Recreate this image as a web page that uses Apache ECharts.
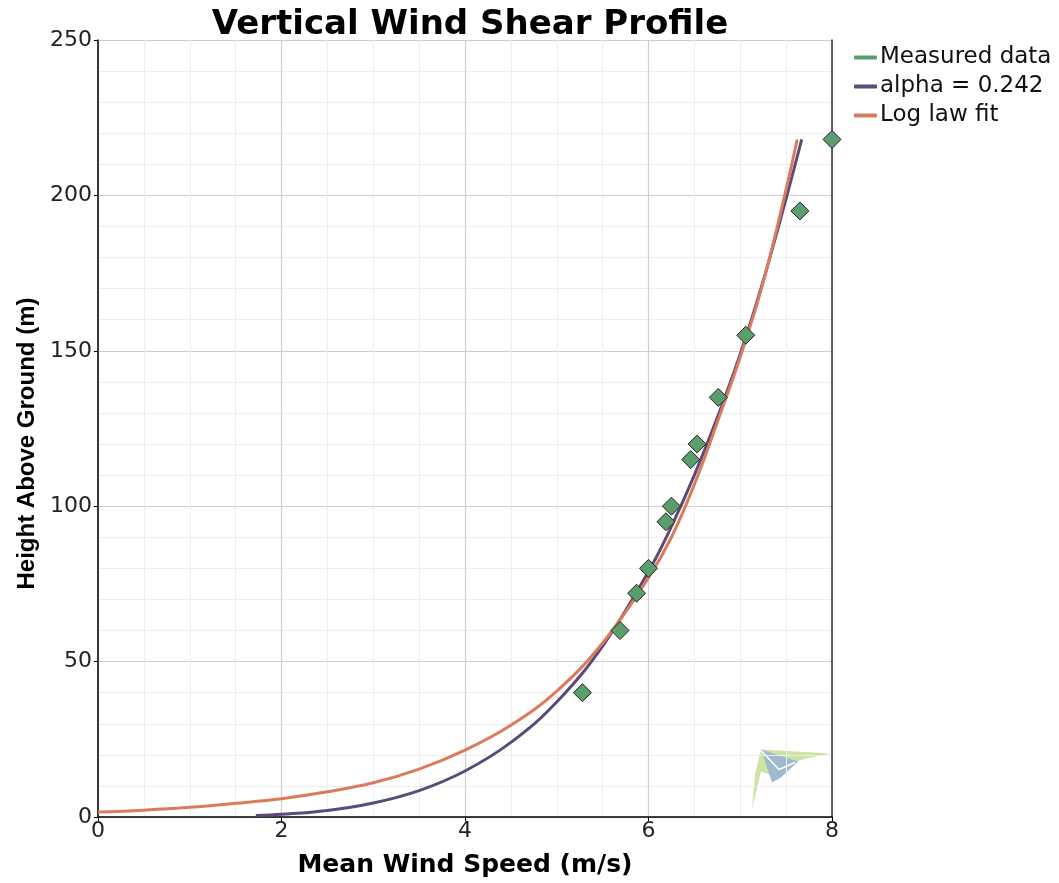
<!DOCTYPE html>
<html>
<head>
<meta charset="utf-8">
<script src="https://cdn.jsdelivr.net/npm/echarts@6/dist/echarts.min.js"></script>
<style>html,body{margin:0;padding:0;background:#fff;}#c{width:1059px;height:883px;}</style>
</head>
<body>
<div id="c"></div>
<script>
const titleText = 'Vertical Wind Shear Profile';
const xName = 'Mean Wind Speed (m/s)';
const yName = 'Height Above Ground (m)';
const seriesNames = ['Measured data', 'alpha = 0.242', 'Log law fit'];

// Measured data: [wind speed, height]
const measured = [
  [5.28, 40], [5.69, 60], [5.87, 72], [6.00, 80], [6.19, 95], [6.25, 100],
  [6.46, 115], [6.53, 120], [6.76, 135], [7.06, 155], [7.65, 195], [8.00, 218]
];
// Power-law curve (alpha = 0.242)
const alphaCurve = [
  [1.72, 0.45], [2.0, 0.85], [2.5, 2.1], [3.0, 4.5], [3.5, 8.5], [4.0, 14.8],
  [4.5, 24], [5.0, 37], [5.5, 55], [6.0, 79], [6.25, 93.5], [6.5, 110],
  [6.75, 128.5], [7.0, 149], [7.25, 172.5], [7.5, 199], [7.67, 218]
];
// Log-law fit curve
const logCurve = [
  [0.0, 1.6], [0.5, 2.2], [1.0, 3.1], [1.5, 4.4], [2.0, 5.9], [2.5, 8.1],
  [3.0, 11.0], [3.5, 15.4], [4.0, 21.5], [4.5, 29.5], [5.0, 40.5], [5.5, 56],
  [6.0, 77], [6.25, 90], [6.5, 107], [6.75, 127], [7.0, 148], [7.25, 172],
  [7.5, 202], [7.62, 218]
];

const SANS = '"DejaVu Sans", sans-serif';
const ARIAL = '"Liberation Sans", Arial, sans-serif';
const colors = ['#5a9e6e', '#5c4a78', '#d97b5c'];

const chart = echarts.init(document.getElementById('c'), null, {renderer: 'canvas'});
chart.setOption({
  animation: false,
  backgroundColor: '#fff',
  title: {
    text: titleText, left: 465, top: 3, textAlign: 'center',
    textStyle: {fontFamily: SANS, fontWeight: 'bold', fontSize: 34, color: '#000'}
  },
  legend: {
    orient: 'vertical', left: 849, top: 41, itemGap: 6, itemWidth: 23, itemHeight: 4,
    icon: 'roundRect',
    textStyle: {fontFamily: SANS, fontSize: 23, lineHeight: 23, color: '#111', padding: [0,0,0,-2]},
    data: seriesNames.map((n, i) => ({name: n, itemStyle: {color: colors[i], borderWidth: 0}}))
  },
  grid: {left: 98, right: 227, top: 40, bottom: 63},
  xAxis: {
    type: 'value', min: 0, max: 8, interval: 2,
    name: xName, nameLocation: 'middle', nameGap: 36,
    nameTextStyle: {fontFamily: SANS, fontWeight: 'bold', fontSize: 25, color: '#000'},
    axisLine: {show: true, onZero: false, lineStyle: {color: '#000', width: 1.5}},
    axisTick: {show: true, length: 4, lineStyle: {color: '#000'}},
    axisLabel: {fontFamily: SANS, fontSize: 22, color: '#222', margin: 3},
    splitLine: {show: true, lineStyle: {color: '#cfcfcf', width: 1.2}},
    minorTick: {show: false, splitNumber: 4},
    minorSplitLine: {show: true, lineStyle: {color: '#ededed', width: 1}}
  },
  yAxis: [{
    type: 'value', min: 0, max: 250, interval: 50,
    name: yName, nameLocation: 'middle', nameGap: 59, nameRotate: 90,
    nameTextStyle: {fontFamily: ARIAL, fontWeight: 'bold', fontSize: 24, color: '#000', padding: [0, 30, 0, 0]},
    axisLine: {show: true, lineStyle: {color: '#000', width: 1.5}},
    axisTick: {show: true, length: 4, lineStyle: {color: '#000'}},
    axisLabel: {fontFamily: SANS, fontSize: 22, color: '#222', margin: 6},
    splitLine: {show: true, lineStyle: {color: '#cfcfcf', width: 1.2}},
    minorTick: {show: false, splitNumber: 5},
    minorSplitLine: {show: true, lineStyle: {color: '#ededed', width: 1}}
  }, {
    type: 'value', min: 0, max: 250, interval: 50, position: 'right',
    axisLine: {show: true, lineStyle: {color: '#333', width: 1.5}},
    axisTick: {show: false}, axisLabel: {show: false}, splitLine: {show: false}
  }],
  graphic: [{
    type: 'group', left: 752, top: 748, silent: true,
    children: [
      {type: 'polygon', shape: {points: [[10,0],[80,4],[55,9],[45,12],[28,28],[10,22],[1,60],[4,25]]}, style: {fill: '#c5e19a', opacity: 0.9}},
      {type: 'polygon', shape: {points: [[10,0],[47,12],[30,28],[21,33],[14,12]]}, style: {fill: '#9db7cf', opacity: 0.95}},
      {type: 'polyline', shape: {points: [[10,1],[28,20],[44,13]]}, style: {stroke: '#fff', lineWidth: 1.5, fill: null}}
    ]
  }],
  series: [
    {
      name: seriesNames[1], type: 'line', data: alphaCurve, showSymbol: false, smooth: 0.4,
      lineStyle: {color: colors[1], width: 3}, itemStyle: {color: colors[1]}, z: 2
    },
    {
      name: seriesNames[2], type: 'line', data: logCurve, showSymbol: false, smooth: 0.4,
      lineStyle: {color: colors[2], width: 3}, itemStyle: {color: colors[2]}, z: 3
    },
    {
      name: seriesNames[0], type: 'scatter', data: measured, symbol: 'diamond', symbolSize: 18,
      itemStyle: {color: colors[0], borderColor: '#222', borderWidth: 1, opacity: 1}, z: 5
    }
  ]
});
</script>
</body>
</html>
